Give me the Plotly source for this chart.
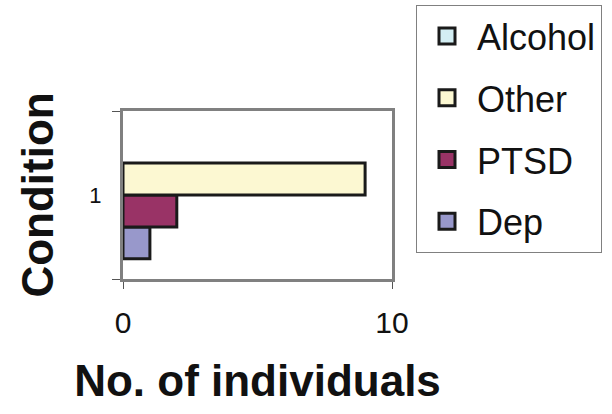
import plotly.graph_objects as go

# Dados
categorias = ["1"]
series = ["Dep", "PTSD", "Other", "Alcohol"]
valores = {
    "Dep": [1],
    "PTSD": [2],
    "Other": [9],
    "Alcohol": [0],
}
cores = {
    "Dep": "#9898cb",
    "PTSD": "#993366",
    "Other": "#fcf8d2",
    "Alcohol": "#d3eef3",
}

fonte = "Arial, Liberation Sans, sans-serif"
contorno = "#1a1a1a"

fig = go.Figure()
for i, nome in enumerate(series):
    zero = all(v == 0 for v in valores[nome])
    # barra de valor zero: sem contorno (no Excel não aparece nada)
    fig.add_trace(go.Bar(
        y=categorias, x=valores[nome], name=nome, orientation="h",
        showlegend=False,
        marker=dict(color=cores[nome], line=dict(color=contorno, width=0 if zero else 3)),
    ))
    # entrada da legenda com quadrado maior que o padrão das barras
    fig.add_trace(go.Scatter(
        x=[None], y=[None], mode="markers", name=nome,
        legendgroup=nome, legendrank=len(series) - i, hoverinfo="skip",
        marker=dict(symbol="square", size=16, color=cores[nome],
                    line=dict(color=contorno, width=3)),
    ))

fig.update_layout(
    width=612, height=414,
    margin=dict(l=123, r=220, t=111, b=135),
    paper_bgcolor="white", plot_bgcolor="white",
    barmode="group", bargap=0.24, bargroupgap=0,
    font=dict(family=fonte, color="#111111"),
    showlegend=True,
    legend=dict(
        traceorder="grouped", tracegroupgap=12, itemwidth=50,
        xref="container", yref="container",
        x=416 / 612, y=1 - 5 / 414, xanchor="left", yanchor="top",
        maxheight=400,
        bordercolor="#808080", borderwidth=1,
        font=dict(size=36, family=fonte, color="#111111"),
    ),
)

fig.update_xaxes(
    range=[0, 10], tickvals=[0, 10], showgrid=False, zeroline=False,
    showline=True, linecolor="#808080", linewidth=3, mirror=True,
    layer="above traces", automargin=False,
    ticks="outside", ticklen=7, tickwidth=1, tickcolor="#555555",
    tickfont=dict(size=30), ticklabelstandoff=8,
    title=dict(text="<b>No. of individuals</b>", font=dict(size=44), standoff=28),
)
fig.update_yaxes(
    type="category", showgrid=False, zeroline=False,
    showline=True, linecolor="#808080", linewidth=3, mirror=True,
    layer="above traces", automargin=False,
    ticks="outside", ticklen=8, tickwidth=1, tickcolor="#555555",
    tickson="boundaries", tickfont=dict(size=22), ticklabelstandoff=14,
    title=dict(text="<b>Condition</b>", font=dict(size=44), standoff=22),
)

# sem margem do body, para a figura começar no canto da janela
fig.write_html("out.html", config={"displayModeBar": False},
               post_script="document.body.style.margin='0';")
